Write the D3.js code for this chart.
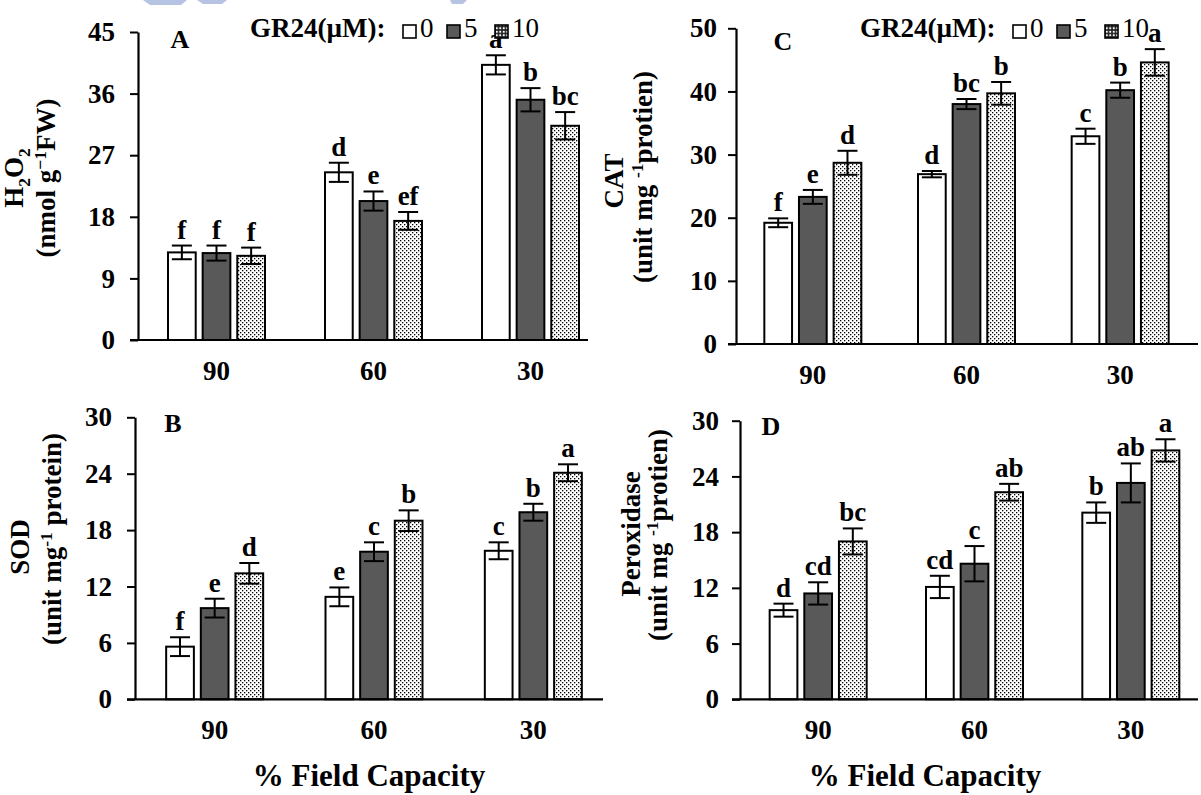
<!DOCTYPE html>
<html><head><meta charset="utf-8">
<script src="https://cdn.jsdelivr.net/npm/d3@7"></script>
<style>body{margin:0;background:#fff}svg{display:block}</style>
</head><body>
<svg id="chart" width="1201" height="795"></svg>
<script>
// ---------------- data ----------------
const fieldCapacity = ["90", "60", "30"];
const gr24Levels = ["0", "5", "10"];

const h2o2Values  = [[12.8, 12.7, 12.3], [24.5, 20.3, 17.4], [40.2, 35.1, 31.3]];
const h2o2Errors  = [[1.0, 1.1, 1.2], [1.4, 1.4, 1.3], [1.4, 1.7, 2.0]];
const h2o2Letters = [["f", "f", "f"], ["d", "e", "ef"], ["a", "b", "bc"]];
const h2o2Ticks   = [0, 9, 18, 27, 36, 45];

const sodValues  = [[5.6, 9.7, 13.4], [10.9, 15.7, 19.0], [15.8, 19.9, 24.1]];
const sodErrors  = [[1.0, 1.0, 1.1], [1.0, 1.0, 1.1], [0.9, 0.9, 0.9]];
const sodLetters = [["f", "e", "d"], ["e", "c", "b"], ["c", "b", "a"]];
const sodTicks   = [0, 6, 12, 18, 24, 30];

const catValues  = [[19.2, 23.3, 28.7], [26.9, 38.0, 39.7], [32.9, 40.2, 44.6]];
const catErrors  = [[0.7, 1.1, 1.9], [0.5, 0.8, 1.8], [1.2, 1.2, 2.1]];
const catLetters = [["f", "e", "d"], ["d", "bc", "b"], ["c", "b", "a"]];
const catTicks   = [0, 10, 20, 30, 40, 50];

const podValues  = [[9.6, 11.4, 17.0], [12.1, 14.6, 22.3], [20.1, 23.3, 26.8]];
const podErrors  = [[0.7, 1.2, 1.4], [1.2, 1.9, 0.9], [1.1, 2.1, 1.2]];
const podLetters = [["d", "cd", "bc"], ["cd", "c", "ab"], ["b", "ab", "a"]];
const podTicks   = [0, 6, 12, 18, 24, 30];

const legendTitle = "GR24(µM):";
const xTitle = "% Field Capacity";

// ---------------- layout ----------------
const FONT = "'Liberation Serif','Times New Roman',serif";
const svg = d3.select("#chart");

const defs = svg.append("defs");
const dots = defs.append("pattern").attr("id", "dots").attr("patternUnits", "userSpaceOnUse")
  .attr("width", 4).attr("height", 4);
dots.append("rect").attr("width", 4).attr("height", 4).attr("fill", "#fff");
dots.append("rect").attr("x", 0).attr("y", 0).attr("width", 1.3).attr("height", 1.3).attr("fill", "#000");
dots.append("rect").attr("x", 2).attr("y", 2).attr("width", 1.3).attr("height", 1.3).attr("fill", "#000");
const ldots = defs.append("pattern").attr("id", "ldots").attr("patternUnits", "userSpaceOnUse")
  .attr("width", 3.5).attr("height", 3.5);
ldots.append("rect").attr("width", 3.5).attr("height", 3.5).attr("fill", "#222");
ldots.append("rect").attr("x", 0.8).attr("y", 0.8).attr("width", 1.9).attr("height", 1.9).attr("fill", "#fff");

const fills = ["#ffffff", "#595959", "url(#dots)"];
const legendFills = ["#ffffff", "#595959", "url(#ldots)"];

// faint watermark remnants at the top edge
const wm = svg.append("g").attr("fill", "#b7c3e3");
wm.append("path").attr("d", "M143,0 L187,0 L181,5 L150,5 Z");
wm.append("path").attr("d", "M197,0 L227,0 L222,4 L203,4 Z");
wm.append("path").attr("d", "M450,0 L467,0 L463,4 L452,4 Z");

const panels = [
  { tag: "A", values: h2o2Values, errors: h2o2Errors, letters: h2o2Letters, ticks: h2o2Ticks,
    title1: [["H", 0], ["2", 1], ["O", 0], ["2", 1]],
    title2: [["(nmol g", 0], ["\u22121", -1], ["FW)", 0]],
    L: { axisX: 138, yTop: 32, yBottom: 340, bandEnd: 609, lineEnd: 588, tickPad: 15,
         t1: [23, 178], t2: [55, 178], tagPos: [180, 48], legend: [250, 37] } },
  { tag: "B", values: sodValues, errors: sodErrors, letters: sodLetters, ticks: sodTicks,
    title1: [["SOD", 0]],
    title2: [["(unit mg", 0], ["-1", -1], [" protein)", 0]],
    L: { axisX: 135, yTop: 417.3, yBottom: 699.3, bandEnd: 613, lineEnd: 603, tickPad: 15,
         t1: [29, 547], t2: [61, 539], tagPos: [173, 432], xTitle: [369, 786] } },
  { tag: "C", values: catValues, errors: catErrors, letters: catLetters, ticks: catTicks,
    title1: [["CAT", 0]],
    title2: [["(unit mg ", 0], ["-1", -1], ["protien)", 0]],
    L: { axisX: 736, yTop: 28.3, yBottom: 344, bandEnd: 1197, lineEnd: 1198, tickPad: 11,
         t1: [623, 181], t2: [652, 177], tagPos: [783, 50], legend: [860, 37] } },
  { tag: "D", values: podValues, errors: podErrors, letters: podLetters, ticks: podTicks,
    title1: [["Peroxidase", 0]],
    title2: [["(unit mg ", 0], ["-1", -1], ["protien)", 0]],
    L: { axisX: 740, yTop: 420.7, yBottom: 699.3, bandEnd: 1209, lineEnd: 1198, tickPad: 13,
         t1: [640, 534], t2: [667, 535], tagPos: [771, 435], xTitle: [925, 786] } }
];

const TICK = 8, GROUP_W = 97, CAP = 10;
const TXT = 27;

function titleLine(g, parts, pos, size) {
  const t = g.append("text")
    .attr("transform", `translate(${pos[0]},${pos[1]}) rotate(-90)`)
    .attr("text-anchor", "middle").attr("dy", "0.35em")
    .attr("font-family", FONT).attr("font-weight", "bold").attr("font-size", size);
  let shift = 0;
  parts.forEach(([s, kind]) => {
    const target = kind === 1 ? 7 : kind === -1 ? -9 : 0;
    t.append("tspan").attr("dy", target - shift)
      .attr("font-size", kind === 0 ? size : size * 0.65).text(s);
    shift = target;
  });
}

panels.forEach(p => {
  const L = p.L;
  const g = svg.append("g");
  const step = (L.bandEnd - L.axisX) / fieldCapacity.length;
  const pad = 1 - GROUP_W / step;
  const x0 = d3.scaleBand().domain(fieldCapacity).range([L.axisX, L.bandEnd])
    .paddingInner(pad).paddingOuter(pad / 2);
  const x1 = d3.scaleBand().domain(gr24Levels).range([0, x0.bandwidth()]).paddingInner(0.2);
  const y = d3.scaleLinear().domain([0, d3.max(p.ticks)]).range([L.yBottom, L.yTop]);

  const rows = [];
  fieldCapacity.forEach((fc, i) => gr24Levels.forEach((lv, j) => rows.push({
    fc, lv, j, v: p.values[i][j], e: p.errors[i][j], letter: p.letters[i][j] })));

  g.selectAll("rect.bar").data(rows).join("rect").attr("class", "bar")
    .attr("x", d => x0(d.fc) + x1(d.lv)).attr("width", x1.bandwidth())
    .attr("y", d => y(d.v)).attr("height", d => y(0) - y(d.v))
    .attr("fill", d => fills[d.j]).attr("stroke", "#000").attr("stroke-width", 2);

  const eb = g.selectAll("g.err").data(rows).join("g").attr("class", "err")
    .attr("stroke", "#000").attr("stroke-width", 2);
  const cx = d => x0(d.fc) + x1(d.lv) + x1.bandwidth() / 2;
  eb.append("line").attr("x1", cx).attr("x2", cx)
    .attr("y1", d => y(d.v + d.e)).attr("y2", d => y(d.v - d.e));
  eb.append("line").attr("x1", d => cx(d) - CAP).attr("x2", d => cx(d) + CAP)
    .attr("y1", d => y(d.v + d.e)).attr("y2", d => y(d.v + d.e));
  eb.append("line").attr("x1", d => cx(d) - CAP).attr("x2", d => cx(d) + CAP)
    .attr("y1", d => y(d.v - d.e)).attr("y2", d => y(d.v - d.e));

  g.selectAll("text.sig").data(rows).join("text").attr("class", "sig")
    .attr("x", cx).attr("y", d => y(d.v + d.e) - 7)
    .attr("text-anchor", "middle").attr("font-family", FONT)
    .attr("font-weight", "bold").attr("font-size", TXT).text(d => d.letter);

  const ya = g.append("g").attr("transform", `translate(${L.axisX},0)`)
    .call(d3.axisLeft(y).tickValues(p.ticks).tickSize(TICK).tickSizeOuter(0).tickPadding(L.tickPad));
  ya.select(".domain").attr("stroke-width", 2.2);
  ya.selectAll(".tick line").attr("stroke-width", 2);
  ya.selectAll("text").attr("font-family", FONT).attr("font-weight", "bold")
    .attr("font-size", TXT).attr("fill", "#000");

  const xa = g.append("g").attr("transform", `translate(0,${L.yBottom})`)
    .call(d3.axisBottom(x0).tickSize(0));
  xa.select(".domain").remove();
  xa.selectAll("text").attr("y", 40).attr("dy", 0).attr("font-family", FONT)
    .attr("font-weight", "bold").attr("font-size", TXT).attr("fill", "#000");
  xa.append("line").attr("x1", L.axisX - TICK).attr("x2", L.lineEnd)
    .attr("y1", 0).attr("y2", 0).attr("stroke", "#000").attr("stroke-width", 2.2);

  titleLine(g, p.title1, L.t1, 27);
  titleLine(g, p.title2, L.t2, 27);

  g.append("text").attr("x", L.tagPos[0]).attr("y", L.tagPos[1]).attr("text-anchor", "middle")
    .attr("font-family", FONT).attr("font-weight", "bold").attr("font-size", 26).text(p.tag);

  if (L.xTitle) {
    g.append("text").attr("x", L.xTitle[0]).attr("y", L.xTitle[1]).attr("text-anchor", "middle")
      .attr("font-family", FONT).attr("font-weight", "bold").attr("font-size", 31).text(xTitle);
  }

  if (L.legend) {
    const lg = g.append("g").attr("transform", `translate(${L.legend[0]},${L.legend[1]})`);
    lg.append("text").attr("font-family", FONT).attr("font-weight", "bold")
      .attr("font-size", 27).text(legendTitle);
    const offs = [153, 197, 245];
    gr24Levels.forEach((lv, j) => {
      lg.append("rect").attr("x", offs[j]).attr("y", -12).attr("width", 13).attr("height", 13)
        .attr("fill", legendFills[j]).attr("stroke", "#000").attr("stroke-width", 1.6);
      lg.append("text").attr("x", offs[j] + 17).attr("y", 0).attr("font-family", FONT)
        .attr("font-size", 27).text(lv);
    });
  }
});
</script>
</body></html>
